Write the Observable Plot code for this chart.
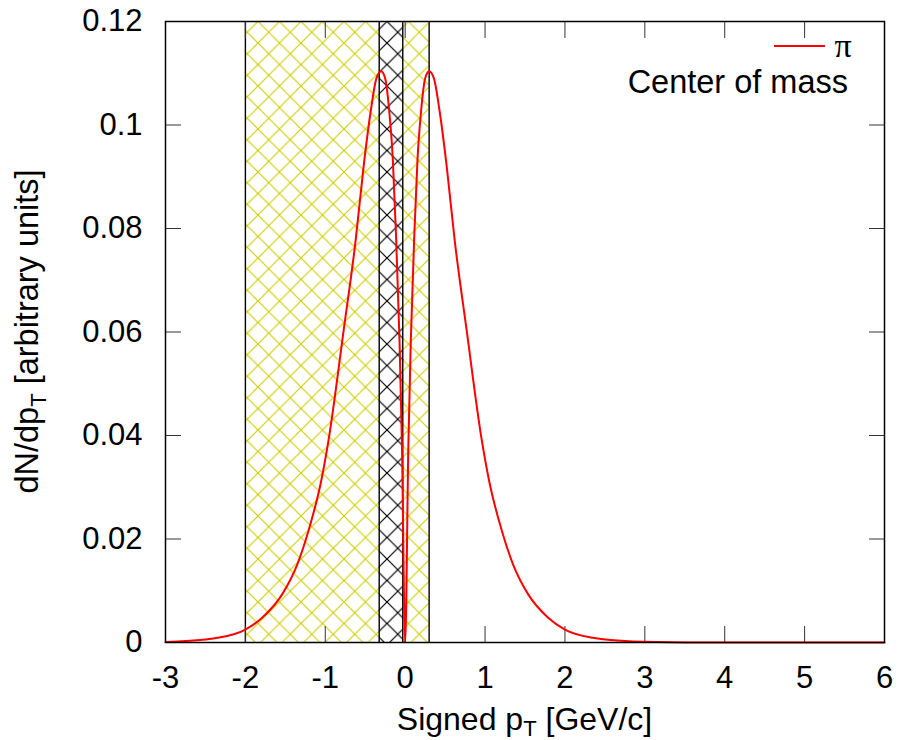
<!DOCTYPE html>
<html><head><meta charset="utf-8">
<script src="https://cdn.jsdelivr.net/npm/d3@7"></script>
<script src="https://cdn.jsdelivr.net/npm/@observablehq/plot@0.6"></script>
<style>body{margin:0;background:#fff} #chart{position:relative;width:900px;height:740px}</style>
</head><body><div id="chart"></div>
<script>
// Signed pT readings (GeV/c) and dN/dpT values (arbitrary units)
const pt = [-3, -2.85, -2.5, -2.35, -2.0, -1.79, -1.54, -1.35, -1.21, -1.05, -0.96, -0.77, -0.62, -0.52, -0.43, -0.36, -0.3, -0.25, -0.2, -0.155, -0.115, -0.07, -0.04, 0,
            0.04, 0.07, 0.115, 0.155, 0.2, 0.25, 0.3, 0.36, 0.43, 0.52, 0.62, 0.77, 0.96, 1.05, 1.21, 1.35, 1.54, 1.79, 2.0, 2.35, 2.85, 3.5, 4, 5, 6];
const dndpt = [0.0001, 0.0002, 0.0006, 0.0009, 0.0025, 0.0048, 0.0093, 0.0151, 0.0216, 0.0313, 0.039, 0.0603, 0.0777, 0.092, 0.1028, 0.109, 0.1104, 0.109, 0.1028, 0.0935, 0.079, 0.058, 0.038, 0,
               0.038, 0.058, 0.079, 0.0935, 0.1028, 0.109, 0.1104, 0.109, 0.1028, 0.092, 0.0777, 0.0603, 0.039, 0.0313, 0.0216, 0.0151, 0.0093, 0.0048, 0.0025, 0.0009, 0.0002, 0.00002, 0, 0, 0];
const xTicks = [-3, -2, -1, 0, 1, 2, 3, 4, 5, 6];
const xTickLabels = ["-3", "-2", "-1", "0", "1", "2", "3", "4", "5", "6"];
const yTicks = [0, 0.02, 0.04, 0.06, 0.08, 0.1, 0.12];
const yTickLabels = ["0", "0.02", "0.04", "0.06", "0.08", "0.1", "0.12"];
// Hatched acceptance regions
const regionStart = [-2, -0.325];
const regionEnd = [0.3, -0.03];
const regionKind = ["yellow", "black"];
const seriesName = "π";
const noteText = "Center of mass";

const data = pt.map((x, i) => ({x, y: dndpt[i]}));
const regions = regionStart.map((s, i) => ({x1: s, x2: regionEnd[i], kind: regionKind[i]}));
const edges = regions.flatMap(r => [r.x1, r.x2]);

const plot = Plot.plot({
  width: 900, height: 740,
  marginLeft: 165, marginRight: 16, marginTop: 21, marginBottom: 98,
  style: {fontFamily: "'Liberation Sans', Arial, sans-serif", fontSize: "31px", color: "black", background: "white"},
  x: {domain: [-3, 6], label: null},
  y: {domain: [0, 0.12], label: null},
  marks: [
    Plot.rect(regions.filter(d => d.kind === "yellow"), {x1: "x1", x2: "x2", fill: "url(#hatch-yellow)"}),
    Plot.rect(regions.filter(d => d.kind === "black"), {x1: "x1", x2: "x2", fill: "white"}),
    Plot.rect(regions.filter(d => d.kind === "black"), {x1: "x1", x2: "x2", fill: "url(#hatch-black)"}),
    Plot.ruleX(edges, {stroke: "black", strokeWidth: 1.4}),
    Plot.axisX({anchor: "bottom", ticks: xTicks, tickSize: -16, tickPadding: 39, stroke: "#333",
      tickFormat: d => xTickLabels[xTicks.indexOf(d)]}),
    Plot.axisX({anchor: "top", ticks: xTicks, tickSize: -16, stroke: "#333", tickFormat: () => ""}),
    Plot.axisY({anchor: "left", ticks: yTicks, tickSize: -16, tickPadding: 39, stroke: "#333",
      tickFormat: d => yTickLabels[yTicks.indexOf(d)]}),
    Plot.axisY({anchor: "right", ticks: yTicks, tickSize: -16, stroke: "#333", tickFormat: () => ""}),
    Plot.line(data, {x: "x", y: "y", stroke: "#ff0000", strokeWidth: 2, curve: "monotone-x"}),
    Plot.frame({stroke: "black", strokeWidth: 1.5})
  ]
});

const svg = d3.select(plot);
const defs = svg.insert("defs", ":first-child");
function hatch(id, color, size, w) {
  const p = defs.append("pattern").attr("id", id).attr("patternUnits", "userSpaceOnUse")
    .attr("width", size).attr("height", size);
  p.append("path")
    .attr("d", `M-2,-2L${size + 2},${size + 2}M${size + 2},-2L-2,${size + 2}M${size - 2},-2L${size + 2},2M-2,${size - 2}L2,${size + 2}M-2,2L2,-2M${size - 2},${size + 2}L${size + 2},${size - 2}`)
    .attr("stroke", color).attr("stroke-width", w).attr("fill", "none");
}
hatch("hatch-yellow", "#cccc00", 21.5, 1.1);
hatch("hatch-black", "#000", 21.5, 1.2);

// axis titles
const xl = svg.append("text").attr("x", 524.5).attr("y", 730).attr("text-anchor", "middle").attr("font-size", 32).attr("fill", "black");
xl.append("tspan").text("Signed p");
xl.append("tspan").attr("font-size", 22).attr("dy", 6).text("T");
xl.append("tspan").attr("dy", -6).text(" [GeV/c]");

const yl = svg.append("text").attr("transform", "translate(38,331.5) rotate(-90)").attr("text-anchor", "middle").attr("font-size", 32.5).attr("fill", "black");
yl.append("tspan").text("dN/dp");
yl.append("tspan").attr("font-size", 22).attr("dy", 8).text("T");
yl.append("tspan").attr("dy", -8).text(" [arbitrary units]");

// legend
svg.append("line").attr("x1", 774).attr("x2", 825).attr("y1", 46).attr("y2", 46).attr("stroke", "#ff0000").attr("stroke-width", 2);
svg.append("text").attr("x", 843).attr("y", 57).attr("font-family", "'Liberation Serif', 'Times New Roman', serif").attr("font-size", 34).attr("fill", "black").text(seriesName);
svg.append("text").attr("x", 848).attr("y", 93).attr("text-anchor", "end").attr("font-size", 32.5).attr("fill", "black").text(noteText);

document.getElementById("chart").appendChild(plot);
</script>
</body></html>
